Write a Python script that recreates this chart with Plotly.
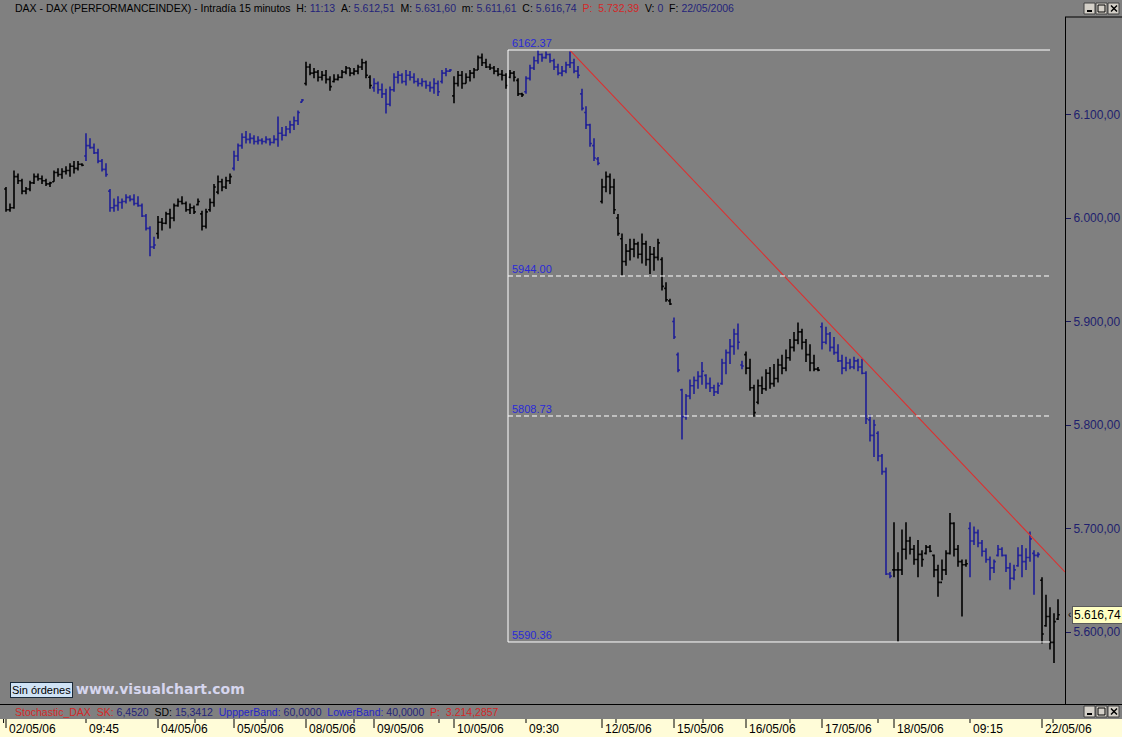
import plotly.graph_objects as go

# ---------------- data (15-minute DAX bars, grouped by trading day) ----------------
day_labels = ["02/05/06", "09:45", "04/05/06", "05/05/06", "08/05/06", "09/05/06", "10/05/06", "09:30",
              "12/05/06", "15/05/06", "16/05/06", "17/05/06", "18/05/06", "09:15", "22/05/06"]
day_bars = [20, 18, 19, 18, 17, 20, 18, 19, 18, 18, 19, 18, 19, 18, 5]
day_colors = ["#000000", "#1e1e96"] * 7 + ["#000000"]

opens = [
    6028, 6008, 6010, 6040, 6036, 6026, 6028, 6034, 6040, 6038, 6036, 6033, 6035, 6044, 6042, 6045, 6046, 6050, 6048, 6052,
    6060, 6070, 6068, 6063, 6055, 6047, 6026, 6010, 6012, 6015, 6016, 6020, 6018, 6014, 6012, 6002, 5990, 5972,
    5985, 5996, 5995, 6004, 6000, 6012, 6016, 6014, 6008, 6010, 6013, 6004, 5992, 6008, 6015, 6025, 6035, 6030, 6036,
    6048, 6060, 6070, 6078, 6076, 6077, 6074, 6075, 6074, 6076, 6073, 6076, 6082, 6080, 6086, 6090, 6094, 6112,
    6130, 6146, 6140, 6141, 6136, 6138, 6134, 6132, 6134, 6136, 6141, 6145, 6140, 6142, 6146, 6150, 6136,
    6126, 6130, 6124, 6120, 6110, 6124, 6136, 6138, 6132, 6138, 6136, 6132, 6130, 6132, 6128, 6126, 6130, 6132, 6140, 6142,
    6118, 6130, 6138, 6130, 6136, 6140, 6143, 6155, 6150, 6146, 6145, 6142, 6139, 6138, 6136, 6140, 6133, 6120,
    6122, 6135, 6145, 6152, 6158, 6155, 6158, 6152, 6146, 6140, 6142, 6148, 6150, 6142, 6120, 6102, 6090, 6070, 6057,
    6016, 6030, 6040, 6030, 6000, 5980, 5958, 5968, 5970, 5975, 5965, 5975, 5960, 5965, 5962, 5960, 5932, 5920,
    5900, 5868, 5834, 5808, 5828, 5838, 5843, 5847, 5848, 5840, 5836, 5832, 5840, 5860, 5870, 5876, 5888, 5858,
    5868, 5855, 5836, 5822, 5838, 5835, 5850, 5840, 5845, 5858, 5855, 5865, 5875, 5882, 5890, 5880, 5868, 5860, 5854,
    5895, 5880, 5888, 5875, 5870, 5862, 5855, 5860, 5856, 5862, 5856, 5850, 5805, 5790, 5792, 5770, 5755, 5656,
    5660, 5660, 5660, 5680, 5688, 5680, 5670, 5675, 5676, 5682, 5674, 5660, 5648, 5660, 5676, 5705, 5680, 5668, 5665,
    5700, 5688, 5696, 5686, 5678, 5670, 5662, 5674, 5680, 5674, 5662, 5652, 5664, 5674, 5668, 5672, 5676, 5674,
    5650, 5606, 5615, 5590, 5612.51,
]
highs = [
    6030, 6014, 6046, 6043, 6038, 6030, 6036, 6043, 6043, 6041, 6038, 6035, 6046, 6048, 6048, 6050, 6053, 6055, 6055, 6053,
    6082, 6077, 6072, 6067, 6057, 6053, 6028, 6019, 6021, 6019, 6023, 6022, 6023, 6021, 6014, 6004, 5992, 5982,
    6002, 6000, 6006, 6009, 6014, 6019, 6021, 6016, 6014, 6012, 6019, 6007, 6009, 6019, 6033, 6041, 6038, 6040, 6043,
    6065, 6072, 6082, 6084, 6082, 6080, 6079, 6077, 6079, 6077, 6080, 6098, 6088, 6089, 6094, 6098, 6104, 6115,
    6151, 6149, 6145, 6143, 6142, 6143, 6137, 6139, 6139, 6143, 6147, 6145, 6145, 6148, 6154, 6152, 6138,
    6135, 6132, 6130, 6125, 6127, 6140, 6142, 6140, 6143, 6142, 6140, 6135, 6135, 6133, 6132, 6135, 6133, 6143, 6145, 6144,
    6137, 6142, 6142, 6140, 6143, 6145, 6157, 6159, 6154, 6149, 6147, 6145, 6143, 6140, 6143, 6142, 6135, 6121,
    6137, 6148, 6156, 6162.37, 6159, 6161, 6159, 6154, 6149, 6147, 6151, 6161, 6154, 6147, 6125, 6108, 6091, 6077, 6059,
    6038, 6045, 6043, 6038, 6004, 5985, 5975, 5980, 5980, 5977, 5985, 5978, 5973, 5972, 5980, 5962, 5938, 5922,
    5904, 5870, 5835, 5830, 5844, 5847, 5852, 5861, 5849, 5846, 5839, 5841, 5864, 5873, 5883, 5893, 5898, 5862,
    5871, 5864, 5839, 5844, 5847, 5854, 5856, 5859, 5864, 5868, 5873, 5883, 5890, 5899, 5893, 5883, 5878, 5868, 5856,
    5899, 5895, 5890, 5885, 5878, 5868, 5866, 5864, 5866, 5864, 5864, 5852, 5810, 5805, 5794, 5772, 5759, 5658,
    5706, 5677, 5699, 5706, 5692, 5684, 5689, 5679, 5684, 5684, 5675, 5665, 5670, 5679, 5715, 5706, 5684, 5670, 5670,
    5706, 5702, 5699, 5689, 5681, 5673, 5670, 5684, 5682, 5675, 5667, 5665, 5682, 5684, 5681, 5697, 5679, 5677,
    5653, 5636, 5624, 5618, 5631.60,
]
lows = [
    6006, 6006, 6009, 6033, 6023, 6023, 6026, 6033, 6036, 6033, 6031, 6030, 6035, 6040, 6038, 6042, 6040, 6043, 6046, 6050,
    6055, 6067, 6062, 6053, 6045, 6040, 6006, 6006, 6007, 6009, 6014, 6016, 6012, 6011, 6001, 5988, 5963, 5970,
    5980, 5988, 5994, 5990, 5997, 6011, 6013, 6006, 6004, 6004, 6012, 5988, 5990, 6006, 6011, 6023, 6026, 6028, 6033,
    6046, 6055, 6067, 6072, 6072, 6071, 6071, 6071, 6072, 6070, 6072, 6069, 6075, 6079, 6082, 6085, 6090, 6112,
    6128, 6138, 6135, 6132, 6133, 6130, 6123, 6131, 6133, 6135, 6139, 6137, 6138, 6139, 6143, 6135, 6125,
    6122, 6120, 6116, 6101, 6108, 6122, 6130, 6130, 6128, 6133, 6130, 6127, 6127, 6125, 6122, 6120, 6118, 6130, 6137, 6141,
    6111, 6127, 6125, 6130, 6132, 6135, 6143, 6147, 6145, 6143, 6139, 6137, 6133, 6125, 6135, 6132, 6118, 6117,
    6120, 6133, 6143, 6149, 6151, 6154, 6150, 6143, 6138, 6137, 6140, 6145, 6140, 6135, 6104, 6086, 6069, 6055, 6051,
    6014, 6025, 6023, 6004, 5983, 5944, 5954, 5959, 5962, 5961, 5956, 5954, 5946, 5949, 5959, 5930, 5919, 5916,
    5883, 5851, 5786, 5805, 5825, 5830, 5835, 5839, 5835, 5832, 5828, 5830, 5839, 5849, 5859, 5868, 5873, 5854,
    5849, 5833, 5808, 5820, 5830, 5833, 5835, 5837, 5841, 5849, 5852, 5862, 5871, 5878, 5873, 5861, 5852, 5852, 5852,
    5873, 5878, 5871, 5868, 5861, 5849, 5852, 5854, 5854, 5852, 5849, 5801, 5784, 5769, 5765, 5752, 5655, 5652,
    5653, 5590.36, 5655, 5670, 5675, 5665, 5653, 5663, 5675, 5677, 5653, 5634, 5650, 5655, 5675, 5673, 5663, 5615, 5663,
    5653, 5684, 5682, 5673, 5667, 5650, 5657, 5673, 5673, 5658, 5641, 5650, 5663, 5653, 5660, 5668, 5636, 5672,
    5589, 5605, 5583, 5570, 5611.61,
]
closes = [
    6008, 6010, 6040, 6036, 6026, 6028, 6034, 6040, 6038, 6036, 6033, 6034, 6044, 6042, 6045, 6046, 6050, 6048, 6052, 6051,
    6070, 6068, 6063, 6055, 6047, 6042, 6010, 6012, 6015, 6016, 6020, 6018, 6014, 6012, 6002, 5990, 5972, 5974,
    5996, 5995, 6004, 6000, 6012, 6016, 6014, 6008, 6010, 6006, 6016, 5992, 6006, 6015, 6030, 6035, 6030, 6036, 6040,
    6060, 6070, 6078, 6076, 6077, 6074, 6075, 6074, 6076, 6073, 6076, 6082, 6080, 6086, 6090, 6094, 6102, 6114,
    6146, 6140, 6141, 6136, 6138, 6134, 6127, 6134, 6136, 6141, 6145, 6140, 6142, 6146, 6150, 6138, 6128,
    6130, 6124, 6120, 6110, 6124, 6136, 6138, 6132, 6138, 6136, 6132, 6130, 6132, 6128, 6126, 6130, 6122, 6140, 6142, 6143,
    6130, 6138, 6130, 6136, 6140, 6143, 6155, 6150, 6146, 6145, 6142, 6139, 6138, 6128, 6140, 6136, 6120, 6119,
    6135, 6145, 6152, 6158, 6155, 6158, 6152, 6146, 6140, 6142, 6148, 6150, 6142, 6138, 6106, 6090, 6072, 6058, 6053,
    6030, 6040, 6030, 6008, 5985, 5958, 5968, 5970, 5975, 5965, 5975, 5960, 5965, 5962, 5976, 5934, 5921, 5917,
    5885, 5853, 5808, 5828, 5838, 5843, 5847, 5852, 5840, 5836, 5832, 5838, 5860, 5870, 5876, 5888, 5880, 5857,
    5855, 5836, 5812, 5838, 5835, 5850, 5840, 5845, 5858, 5855, 5865, 5875, 5882, 5890, 5880, 5868, 5860, 5854, 5853,
    5880, 5888, 5875, 5870, 5862, 5855, 5860, 5856, 5862, 5856, 5850, 5806, 5790, 5800, 5770, 5755, 5656, 5654,
    5660, 5660, 5680, 5688, 5680, 5670, 5675, 5670, 5682, 5678, 5660, 5648, 5660, 5676, 5705, 5680, 5668, 5665, 5666,
    5688, 5696, 5686, 5678, 5670, 5662, 5668, 5680, 5674, 5662, 5652, 5660, 5674, 5668, 5672, 5690, 5674, 5675,
    5598, 5615, 5590, 5610, 5616.74,
]

time_label_days = ["09:45", "09:30", "09:15"]
minor_ticks = [-0.6, 20, 47.25, 64.75, 87, 108.25, 130, 152.5, 174.25, 196, 218, 241, 261.75]
price_ticks = [5600, 5700, 5800, 5900, 6000, 6100]
fib_levels = [6162.37, 5944.00, 5808.73, 5590.36]
fib_dashed = [False, True, True, False]
fib_span = [125.5, 261]
trend_x = [141, 264.75]
trend_y = [6162, 5658]
last_price = 5616.74

header_parts = [
    ("DAX - DAX (PERFORMANCEINDEX) - Intradía 15 minutos  H: ", "#000000"), ("11:13", "#24247a"),
    ("  A: ", "#000000"), ("5.612,51", "#24247a"),
    ("  M: ", "#000000"), ("5.631,60", "#24247a"),
    ("  m: ", "#000000"), ("5.611,61", "#24247a"),
    ("  C: ", "#000000"), ("5.616,74", "#24247a"),
    ("  P:  5.732,39", "#d42828"),
    ("  V: ", "#000000"), ("0", "#24247a"),
    ("  F: ", "#000000"), ("22/05/2006", "#24247a"),
]
stoch_parts = [
    ("Stochastic_DAX  SK: ", "#d42828"), ("6,4520", "#24247a"),
    ("  SD: ", "#000000"), ("15,3412", "#24247a"),
    ("  UppperBand: ", "#2626c8"), ("60,0000", "#24247a"),
    ("  LowerBand: ", "#2626c8"), ("40,0000", "#24247a"),
    ("  P:  3.214,2857", "#d42828"),
]

# ---------------- geometry helpers (pixel -> paper) ----------------
W, H = 1122, 737
PL, PR, PT, PB = 0, 1065, 17, 704


def px(x):
    return (x - PL) / (PR - PL)


def py(y):
    return (PB - y) / (PB - PT)


FONT = "Liberation Sans, Arial, sans-serif"


def rich(parts):
    out = []
    for txt, col in parts:
        out.append('<span style="color:%s">%s</span>' % (col, txt.replace(" ", "\u00a0")))
    return "".join(out)


fig = go.Figure()

# ---------------- OHLC bars, coloured by day ----------------
starts = []
acc = 0
for n in day_bars:
    starts.append(acc)
    acc += n

groups = {}
for d, (s, n) in enumerate(zip(starts, day_bars)):
    g = groups.setdefault(day_colors[d], {"x": [], "o": [], "h": [], "l": [], "c": []})
    for i in range(s, s + n):
        g["x"].append(i)
        g["o"].append(opens[i])
        g["h"].append(highs[i])
        g["l"].append(lows[i])
        g["c"].append(closes[i])

for col, g in groups.items():
    fig.add_trace(go.Ohlc(
        x=g["x"], open=g["o"], high=g["h"], low=g["l"], close=g["c"],
        increasing=dict(line=dict(color=col, width=1.6)),
        decreasing=dict(line=dict(color=col, width=1.6)),
        tickwidth=0.45, hoverinfo="skip", showlegend=False,
    ))

# ---------------- trend line ----------------
fig.add_trace(go.Scatter(x=trend_x, y=trend_y, mode="lines",
                         line=dict(color="#dc3030", width=1.1), hoverinfo="skip",
                         showlegend=False, cliponaxis=True))

shapes = []
annotations = []

# ---------------- fibonacci retracement ----------------
shapes.append(dict(type="line", xref="x", yref="y", x0=fib_span[0], x1=fib_span[0],
                   y0=fib_levels[-1], y1=fib_levels[0], line=dict(color="#ffffff", width=1)))
for lvl, dashed in zip(fib_levels, fib_dashed):
    shapes.append(dict(type="line", xref="x", yref="y", x0=fib_span[0], x1=fib_span[1],
                       y0=lvl, y1=lvl,
                       line=dict(color="#ffffff", width=1, dash="5px,3px" if dashed else "solid")))
    annotations.append(dict(xref="x", yref="y", x=fib_span[0], y=lvl, text="%.2f" % lvl,
                            showarrow=False, xanchor="left", yanchor="bottom", xshift=2, yshift=-1,
                            font=dict(family=FONT, size=11, color="#2a2ad8")))

# ---------------- frame lines ----------------
shapes.append(dict(type="line", xref="paper", yref="paper", x0=px(0), x1=px(W), y0=py(704.5), y1=py(704.5),
                   line=dict(color="#000000", width=1)))
shapes.append(dict(type="line", xref="paper", yref="paper", x0=px(1065), x1=px(W), y0=py(17), y1=py(17),
                   line=dict(color="#000000", width=1)))

# ---------------- date axis strip ----------------
shapes.append(dict(type="rect", xref="paper", yref="paper", x0=px(0), x1=px(W), y0=py(737), y1=py(719),
                   fillcolor="#fffcd8", line=dict(width=0), layer="below"))
for d, s in enumerate(starts):
    lab = day_labels[d]
    if lab not in time_label_days:
        shapes.append(dict(type="line", xref="x", yref="paper", x0=s, x1=s, y0=py(719), y1=py(728),
                           line=dict(color="#000000", width=1)))
    annotations.append(dict(xref="x", yref="paper", x=s, y=py(729), text=lab, showarrow=False,
                            xanchor="left", yanchor="middle", xshift=1,
                            font=dict(family=FONT, size=12, color="#000000")))
for m in minor_ticks:
    shapes.append(dict(type="line", xref="x", yref="paper", x0=m, x1=m, y0=py(719), y1=py(723),
                       line=dict(color="#000000", width=1)))

# ---------------- window buttons ----------------
for ytop in (3, 706):
    for k in range(3):
        x0 = 1084 + 12 * k
        shapes.append(dict(type="rect", xref="paper", yref="paper", x0=px(x0), x1=px(x0 + 11),
                           y0=py(ytop + 11), y1=py(ytop), fillcolor="#d4d0c8",
                           line=dict(color="#404040", width=1)))
    shapes.append(dict(type="line", xref="paper", yref="paper", x0=px(1087), x1=px(1092),
                       y0=py(ytop + 8), y1=py(ytop + 8), line=dict(color="#000000", width=2)))
    shapes.append(dict(type="rect", xref="paper", yref="paper", x0=px(1098), x1=px(1105),
                       y0=py(ytop + 9), y1=py(ytop + 2), line=dict(color="#000000", width=1)))
    shapes.append(dict(type="line", xref="paper", yref="paper", x0=px(1111), x1=px(1117),
                       y0=py(ytop + 2.5), y1=py(ytop + 8.5), line=dict(color="#000000", width=1.5)))
    shapes.append(dict(type="line", xref="paper", yref="paper", x0=px(1111), x1=px(1117),
                       y0=py(ytop + 8.5), y1=py(ytop + 2.5), line=dict(color="#000000", width=1.5)))

# ---------------- texts ----------------
annotations.append(dict(xref="paper", yref="paper", x=px(13), y=py(8), text=rich(header_parts),
                        showarrow=False, xanchor="left", yanchor="middle",
                        font=dict(family=FONT, size=10.5, color="#000000")))
annotations.append(dict(xref="paper", yref="paper", x=px(13), y=py(711.5), text=rich(stoch_parts),
                        showarrow=False, xanchor="left", yanchor="middle",
                        font=dict(family=FONT, size=10.5, color="#000000")))
annotations.append(dict(xref="paper", yref="paper", x=px(10), y=py(690), text="Sin órdenes",
                        showarrow=False, xanchor="left", yanchor="middle",
                        bgcolor="#cfe2f5", bordercolor="#1a2a3a", borderwidth=1, borderpad=1,
                        font=dict(family=FONT, size=11, color="#000000")))
annotations.append(dict(xref="paper", yref="paper", x=px(74), y=py(689), text="<b>www.visualchart.com</b>",
                        showarrow=False, xanchor="left", yanchor="middle",
                        font=dict(family="DejaVu Sans, Verdana, sans-serif", size=14, color="#d6d6ee")))
annotations.append(dict(xref="paper", yref="y", x=px(1072), y=last_price, text="5.616,74",
                        showarrow=False, xanchor="left", yanchor="middle",
                        bgcolor="#ffffc2", bordercolor="#5a5a5a", borderwidth=1, borderpad=1,
                        font=dict(family=FONT, size=12, color="#000000")))
annotations.append(dict(xref="paper", yref="y", x=px(1066), y=last_price, text="‹",
                        showarrow=False, xanchor="left", yanchor="middle",
                        font=dict(family=FONT, size=10, color="#000000")))

fig.update_layout(
    width=W, height=H,
    margin=dict(l=PL, r=W - PR, t=PT, b=H - PB, pad=0),
    paper_bgcolor="#808080", plot_bgcolor="#808080",
    separators=",.",
    showlegend=False,
    hovermode=False,
    xaxis=dict(range=[-1.5, 264.75], showgrid=False, zeroline=False, showticklabels=False,
               ticks="", showline=False, rangeslider=dict(visible=False), fixedrange=True),
    yaxis=dict(range=[5530.43, 6194.26], side="right", tickvals=price_ticks, tickformat=",.2f",
               ticks="outside", ticklen=5, tickcolor="#1b1b5e", showgrid=False, zeroline=False,
               showline=True, linecolor="#000000", linewidth=1,
               tickfont=dict(family=FONT, size=12, color="#1e1e6e"), fixedrange=True),
    shapes=shapes,
    annotations=annotations,
)

fig.write_html(
    "out.html",
    config={"displayModeBar": False, "staticPlot": True},
    post_script="document.documentElement.style.margin='0';document.body.style.margin='0';"
                "document.body.style.padding='0';document.documentElement.style.overflow='hidden';"
                "document.body.style.overflow='hidden';document.body.style.background='#808080';",
)
